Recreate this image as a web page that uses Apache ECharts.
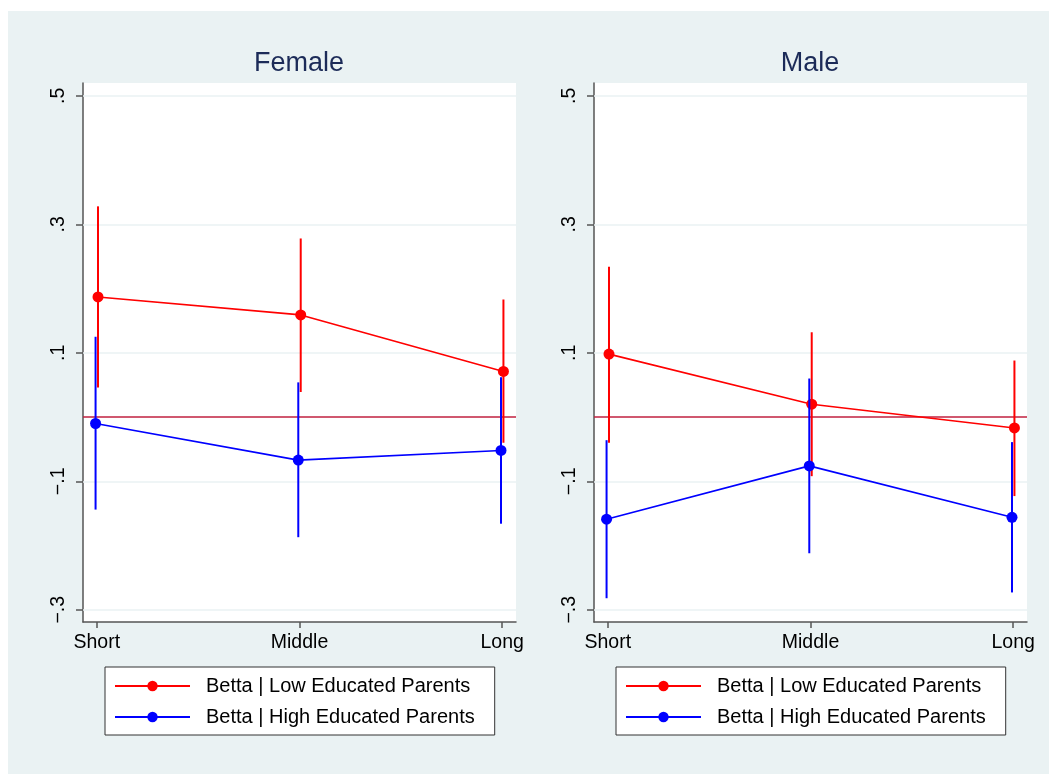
<!DOCTYPE html>
<html>
<head>
<meta charset="utf-8">
<script src="https://cdn.jsdelivr.net/npm/echarts@6/dist/echarts.min.js"></script>
<style>
html,body{margin:0;padding:0;background:#fff;}
#chart{width:1049px;height:774px;}
</style>
</head>
<body>
<div id="chart"></div>
<script>
// ---- data ----
const categories = ['Short', 'Middle', 'Long'];
const panelTitles = ['Female', 'Male'];
const seriesNames = ['Betta | Low Educated Parents', 'Betta | High Educated Parents'];
const yTicks = [-0.3, -0.1, 0.1, 0.3, 0.5];
const yTickLabels = ['\u2212.3', '\u2212.1', '.1', '.3', '.5'];

const femaleLow   = [0.187, 0.159, 0.071];
const femaleLowLo = [0.046, 0.039, -0.040];
const femaleLowHi = [0.328, 0.278, 0.183];
const femaleHigh   = [-0.010, -0.067, -0.052];
const femaleHighLo = [-0.144, -0.187, -0.166];
const femaleHighHi = [0.125, 0.054, 0.062];

const maleLow   = [0.098, 0.020, -0.017];
const maleLowLo = [-0.040, -0.092, -0.123];
const maleLowHi = [0.234, 0.132, 0.088];
const maleHigh   = [-0.159, -0.076, -0.156];
const maleHighLo = [-0.282, -0.212, -0.273];
const maleHighHi = [-0.036, 0.060, -0.039];

// ---- build ----
const RED = '#FF0000', BLUE = '#0000FF';
const OFF = 0.006; // small horizontal dodge between the two series
const FONT = 'Liberation Sans, Arial, Helvetica, sans-serif';

const panels = [
  { low: femaleLow, lowLo: femaleLowLo, lowHi: femaleLowHi, high: femaleHigh, highLo: femaleHighLo, highHi: femaleHighHi },
  { low: maleLow, lowLo: maleLowLo, lowHi: maleLowHi, high: maleHigh, highLo: maleHighLo, highHi: maleHighHi }
];

const grids = [
  { left: 83, top: 83, width: 433, height: 539 },
  { left: 594, top: 83, width: 433, height: 539 }
];

function ciSeries(name, idx, xs, lo, hi, color, z) {
  return {
    type: 'custom', name: name, xAxisIndex: idx, yAxisIndex: idx, z: z,
    silent: true, animation: false,
    data: xs.map((x, i) => [x, lo[i], hi[i]]),
    renderItem: function (params, api) {
      const p1 = api.coord([api.value(0), api.value(1)]);
      const p2 = api.coord([api.value(0), api.value(2)]);
      return { type: 'line', shape: { x1: p1[0], y1: p1[1], x2: p2[0], y2: p2[1] },
               style: { stroke: color, lineWidth: 2 } };
    }
  };
}

const series = [];
const xAxes = [], yAxes = [];
panels.forEach((p, idx) => {
  const xLow = categories.map((c, i) => i + 1 + OFF);
  const xHigh = categories.map((c, i) => i + 1 - OFF);
  // gridlines + zero line
  series.push({
    type: 'line', name: 'grid' + idx, xAxisIndex: idx, yAxisIndex: idx, z: 1,
    data: [[2, null]], silent: true, animation: false, symbol: 'none',
    markLine: {
      z: 1, zlevel: 0,
      silent: true, symbol: 'none', animation: false, label: { show: false },
      data: yTicks.map(v => ({ yAxis: v, lineStyle: { color: '#EAF2F3', width: 1.5, type: 'solid' } }))
        .concat([{ yAxis: 0, lineStyle: { color: '#C0203F', width: 1.5, type: 'solid' } }])
    }
  });
  series.push(ciSeries('ciLow' + idx, idx, xLow, p.lowLo, p.lowHi, RED, 3));
  series.push({
    type: 'line', name: seriesNames[0], xAxisIndex: idx, yAxisIndex: idx, z: 4,
    data: xLow.map((x, i) => [x, p.low[i]]),
    symbol: 'circle', symbolSize: 11, showAllSymbol: true,
    lineStyle: { color: RED, width: 1.6 }, itemStyle: { color: RED },
    animation: false, silent: true
  });
  series.push(ciSeries('ciHigh' + idx, idx, xHigh, p.highLo, p.highHi, BLUE, 5));
  series.push({
    type: 'line', name: seriesNames[1], xAxisIndex: idx, yAxisIndex: idx, z: 6,
    data: xHigh.map((x, i) => [x, p.high[i]]),
    symbol: 'circle', symbolSize: 11, showAllSymbol: true,
    lineStyle: { color: BLUE, width: 1.6 }, itemStyle: { color: BLUE },
    animation: false, silent: true
  });

  xAxes.push({
    type: 'value', gridIndex: idx, min: 0.932, max: 3.068,
    axisLine: { show: true, onZero: false, lineStyle: { color: '#555', width: 1.5 } },
    axisTick: { show: true, length: 6, customValues: [1, 2, 3], lineStyle: { color: '#555', width: 1.5 } },
    axisLabel: { customValues: [1, 2, 3], formatter: v => categories[Math.round(v) - 1],
                 color: '#000', fontSize: 19.5, fontFamily: FONT, margin: 11 },
    splitLine: { show: false }
  });
  yAxes.push({
    type: 'value', gridIndex: idx, min: -0.319, max: 0.52,
    axisLine: { show: true, onZero: false, lineStyle: { color: '#555', width: 1.5 } },
    axisTick: { show: true, length: 7, customValues: yTicks, lineStyle: { color: '#555', width: 1.5 } },
    axisLabel: { customValues: yTicks, rotate: 90,
                 formatter: v => yTickLabels[yTicks.findIndex(t => Math.abs(t - v) < 1e-6)],
                 color: '#000', fontSize: 19.5, fontFamily: FONT, margin: 14 },
    splitLine: { show: false }
  });
});

const legendBase = {
  orient: 'vertical', top: 667,
  data: seriesNames,
  itemWidth: 75, itemHeight: 13, itemGap: 9,
  padding: [8, 20, 7, 9],
  backgroundColor: '#fff', borderColor: '#333', borderWidth: 1,
  selectedMode: false,
  textStyle: { color: '#000', fontSize: 20, fontFamily: FONT, lineHeight: 22, padding: [0, 0, 0, 11] }
};

const option = {
  backgroundColor: '#fff',
  animation: false,
  graphic: [{ type: 'rect', shape: { x: 8, y: 11, width: 1041, height: 763 },
              style: { fill: '#EAF2F3' }, z: -100, silent: true }],
  title: panelTitles.map((t, i) => ({
    text: t, left: i === 0 ? 294 : 805, top: 45, textAlign: 'center',
    textStyle: { color: '#1C2B58', fontSize: 27, fontWeight: 'normal', fontFamily: FONT }
  })),
  legend: [Object.assign({}, legendBase, { left: 105 }), Object.assign({}, legendBase, { left: 616 })],
  grid: grids.map(g => Object.assign({ show: true, backgroundColor: '#fff', borderWidth: 0, containLabel: false }, g)),
  xAxis: xAxes,
  yAxis: yAxes,
  series: series
};

const chart = echarts.init(document.getElementById('chart'), null, { renderer: 'canvas' });
chart.setOption(option);
</script>
</body>
</html>
